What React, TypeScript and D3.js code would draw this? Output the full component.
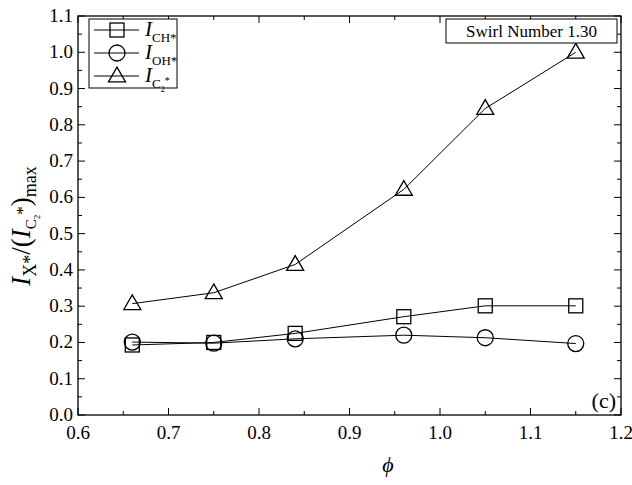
import { useEffect, useRef } from "react";
import * as d3 from "d3";

// equivalence ratio
const phi = [0.66, 0.75, 0.84, 0.96, 1.05, 1.15];
const iCH = [0.193, 0.2, 0.225, 0.271, 0.301, 0.301];
const iOH = [0.201, 0.198, 0.21, 0.22, 0.213, 0.197];
const iC2 = [0.307, 0.337, 0.415, 0.622, 0.845, 1.0];

const xTicks = [0.6, 0.7, 0.8, 0.9, 1.0, 1.1, 1.2];
const yTicks = [0, 0.1, 0.2, 0.3, 0.4, 0.5, 0.6, 0.7, 0.8, 0.9, 1.0, 1.1];

const FONT = "Liberation Serif, Tinos, DejaVu Serif, serif";

const App = () => {
  const ref = useRef<SVGSVGElement>(null);

  useEffect(() => {
    if (!ref.current) return;
    const svg = d3.select(ref.current);
    svg.selectAll("*").remove();

    const margin = { top: 16, right: 11, bottom: 70, left: 78 };
    const W = 632, H = 485;
    const width = W - margin.left - margin.right;
    const height = H - margin.top - margin.bottom;

    const g = svg.append("g").attr("transform", `translate(${margin.left},${margin.top})`);

    const x = d3.scaleLinear().domain([0.6, 1.2]).range([0, width]);
    const y = d3.scaleLinear().domain([0, 1.1]).range([height, 0]);

    const minorX = d3.range(0.65, 1.2, 0.1);
    const minorY = d3.range(0.05, 1.1, 0.1);

    // frame
    g.append("rect").attr("width", width).attr("height", height)
      .attr("fill", "none").attr("stroke", "#000").attr("stroke-width", 1.3);

    const tk = g.append("g").attr("stroke", "#000").attr("stroke-width", 1);
    xTicks.forEach(v => {
      tk.append("line").attr("x1", x(v)).attr("x2", x(v)).attr("y1", height).attr("y2", height - 7);
      tk.append("line").attr("x1", x(v)).attr("x2", x(v)).attr("y1", 0).attr("y2", 7);
    });
    minorX.forEach(v => {
      tk.append("line").attr("x1", x(v)).attr("x2", x(v)).attr("y1", height).attr("y2", height - 4);
      tk.append("line").attr("x1", x(v)).attr("x2", x(v)).attr("y1", 0).attr("y2", 4);
    });
    yTicks.forEach(v => {
      tk.append("line").attr("x1", 0).attr("x2", 7).attr("y1", y(v)).attr("y2", y(v));
      tk.append("line").attr("x1", width).attr("x2", width - 7).attr("y1", y(v)).attr("y2", y(v));
    });
    minorY.forEach(v => {
      tk.append("line").attr("x1", 0).attr("x2", 4).attr("y1", y(v)).attr("y2", y(v));
      tk.append("line").attr("x1", width).attr("x2", width - 4).attr("y1", y(v)).attr("y2", y(v));
    });

    // tick labels
    g.selectAll(".xl").data(xTicks).join("text")
      .attr("x", d => x(d)).attr("y", height + 24)
      .attr("text-anchor", "middle").style("font-family", FONT).attr("font-size", 19)
      .text(d => d.toFixed(1));
    g.selectAll(".yl").data(yTicks).join("text")
      .attr("x", -5).attr("y", d => y(d) + 6)
      .attr("text-anchor", "end").style("font-family", FONT).attr("font-size", 19)
      .text(d => d.toFixed(1));

    // series
    const line = d3.line<number>().x((_, i) => x(phi[i])).y(d => y(d));
    [iCH, iOH, iC2].forEach(s => {
      g.append("path").datum(s).attr("d", line)
        .attr("fill", "none").attr("stroke", "#000").attr("stroke-width", 1);
    });

    const sq = 14;
    const tri = (cx: number, cy: number) => {
      const s = 17;
      const h = s * Math.sqrt(3) / 2;
      return `M${cx},${cy - h * 0.6}L${cx + s / 2},${cy + h * 0.4}L${cx - s / 2},${cy + h * 0.4}Z`;
    };
    const drawSquare = (p: d3.Selection<SVGGElement, unknown, null, undefined>, cx: number, cy: number) =>
      p.append("rect").attr("x", cx - sq / 2).attr("y", cy - sq / 2).attr("width", sq).attr("height", sq)
        .attr("fill", "none").attr("stroke", "#000").attr("stroke-width", 1.3);
    const drawCircle = (p: d3.Selection<SVGGElement, unknown, null, undefined>, cx: number, cy: number) =>
      p.append("circle").attr("cx", cx).attr("cy", cy).attr("r", 8)
        .attr("fill", "none").attr("stroke", "#000").attr("stroke-width", 1.3);
    const drawTri = (p: d3.Selection<SVGGElement, unknown, null, undefined>, cx: number, cy: number) =>
      p.append("path").attr("d", tri(cx, cy))
        .attr("fill", "none").attr("stroke", "#000").attr("stroke-width", 1.3);

    const mk = g.append("g");
    iCH.forEach((v, i) => drawSquare(mk, x(phi[i]), y(v)));
    iOH.forEach((v, i) => drawCircle(mk, x(phi[i]), y(v)));
    iC2.forEach((v, i) => drawTri(mk, x(phi[i]), y(v)));

    // legend
    const lg = svg.append("g").attr("transform", "translate(89,19)");
    lg.append("rect").attr("width", 88).attr("height", 69)
      .attr("fill", "#fff").attr("stroke", "#000").attr("stroke-width", 1);
    const items = [
      { sub: "CH*", draw: drawSquare, c2: false },
      { sub: "OH*", draw: drawCircle, c2: false },
      { sub: "C", draw: drawTri, c2: true },
    ];
    items.forEach((it, i) => {
      const cy = 11 + i * 23;
      lg.append("line").attr("x1", 5).attr("x2", 50).attr("y1", cy).attr("y2", cy)
        .attr("stroke", "#000").attr("stroke-width", 1);
      it.draw(lg, 28, cy);
      const t = lg.append("text").attr("x", 56).attr("y", cy + 6)
        .style("font-family", FONT).attr("font-size", 21);
      t.append("tspan").attr("font-style", "italic").text("I");
      t.append("tspan").attr("font-size", 13).attr("dy", 6).text(it.sub);
      if (it.c2) {
        t.append("tspan").attr("font-size", 8).attr("dy", 4).text("2");
        t.append("tspan").attr("font-size", 10).attr("dy", -8).text("*");
      }
    });

    // annotation box
    const ab = svg.append("g").attr("transform", "translate(446,19)");
    ab.append("rect").attr("width", 171).attr("height", 24)
      .attr("fill", "#fff").attr("stroke", "#000").attr("stroke-width", 1);
    ab.append("text").attr("x", 85.5).attr("y", 18).attr("text-anchor", "middle")
      .style("font-family", FONT).attr("font-size", 17).text("Swirl Number 1.30");

    svg.append("text").attr("x", 616).attr("y", 408).attr("text-anchor", "end")
      .style("font-family", FONT).attr("font-size", 22).text("(c)");

    // axis titles
    svg.append("text").attr("x", 388).attr("y", 472)
      .attr("text-anchor", "middle").style("font-family", FONT).attr("font-size", 22)
      .attr("font-style", "italic").text("\u03d5");

    const yt = svg.append("text")
      .attr("transform", "translate(30,226) rotate(-90)")
      .attr("text-anchor", "middle").style("font-family", FONT).attr("font-size", 27);
    yt.append("tspan").attr("font-style", "italic").text("I");
    yt.append("tspan").attr("font-size", 18).attr("dy", 6).text("X*");
    yt.append("tspan").attr("dy", -6).text("/(");
    yt.append("tspan").attr("font-style", "italic").text("I");
    yt.append("tspan").attr("font-size", 15).attr("dy", 6).text("C");
    yt.append("tspan").attr("font-size", 9).attr("dy", 4).text("2");
    yt.append("tspan").attr("font-size", 17).attr("dy", -12).text("*");
    yt.append("tspan").attr("dy", 2).text(")");
    yt.append("tspan").attr("font-size", 18).attr("dy", 6).text("max");
  }, []);

  return <svg ref={ref} width={632} height={485} style={{ position: "absolute", left: 0, top: 0, background: "#fff" }} />;
};

export default App;
